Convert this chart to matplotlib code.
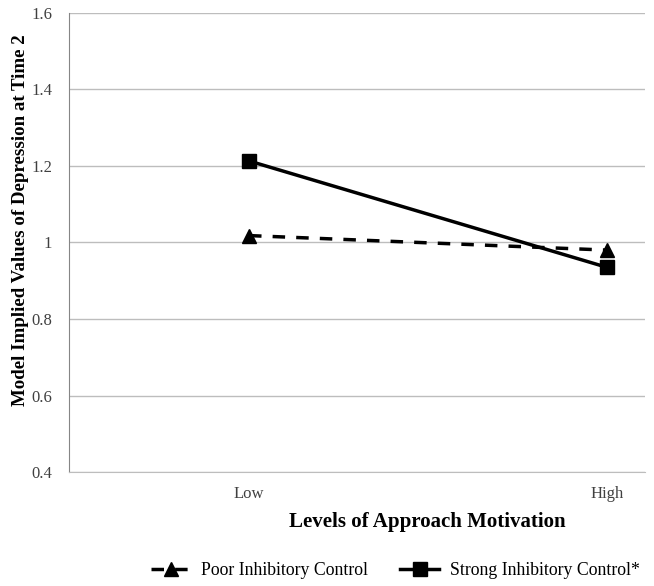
import numpy as np
import matplotlib.pyplot as plt

plt.rcParams['font.family'] = ['Liberation Serif', 'DejaVu Serif']

levels = ['Low', 'High']
poor = [1.018, 0.980]
strong = [1.213, 0.935]
yticks = [0.4, 0.6, 0.8, 1.0, 1.2, 1.4, 1.6]
ytick_labels = ['0.4', '0.6', '0.8', '1', '1.2', '1.4', '1.6']

fig = plt.figure(figsize=(6.54, 5.86), dpi=100)
ax = fig.add_axes([0.1055, 0.1945, 0.8805, 0.7835])

x = np.arange(len(levels))
ax.plot(x, poor, color='black', lw=2.5, ls=(0, (3.6, 3.2)), marker='^', markersize=10,
        label='Poor Inhibitory Control')
ax.plot(x, strong, color='black', lw=2.5, marker='s', markersize=10,
        label='Strong Inhibitory Control*')

ax.set_xlim(-0.503, 1.106)
ax.set_ylim(0.4, 1.6)
ax.set_yticks(yticks)
ax.set_yticklabels(ytick_labels)
ax.set_xticks(x)
ax.set_xticklabels(levels)
ax.yaxis.grid(True, color='#bdbdbd', lw=1)
ax.set_axisbelow(True)
ax.tick_params(length=0, labelsize=12, labelcolor='#404040', pad=12)
ax.tick_params(axis='x', pad=10)
for s in ['top', 'right']:
    ax.spines[s].set_visible(False)
ax.spines['left'].set_color('#868686')
ax.spines['bottom'].set_color('#bdbdbd')

ax.set_xlabel('Levels of Approach Motivation', fontsize=15, fontweight='bold')
ax.xaxis.set_label_coords(0.623, -0.088)
ax.set_ylabel('Model Implied Values of Depression at Time 2', fontsize=13.6, fontweight='bold')
ax.yaxis.set_label_coords(-0.07, 0.548)

fig.legend(loc='center', bbox_to_anchor=(0.605, 0.026), ncol=2, frameon=False,
           fontsize=12.8, handlelength=2.2, handletextpad=0.6, columnspacing=1.8,
           borderpad=0.2)

plt.savefig('out.png', dpi=100)
